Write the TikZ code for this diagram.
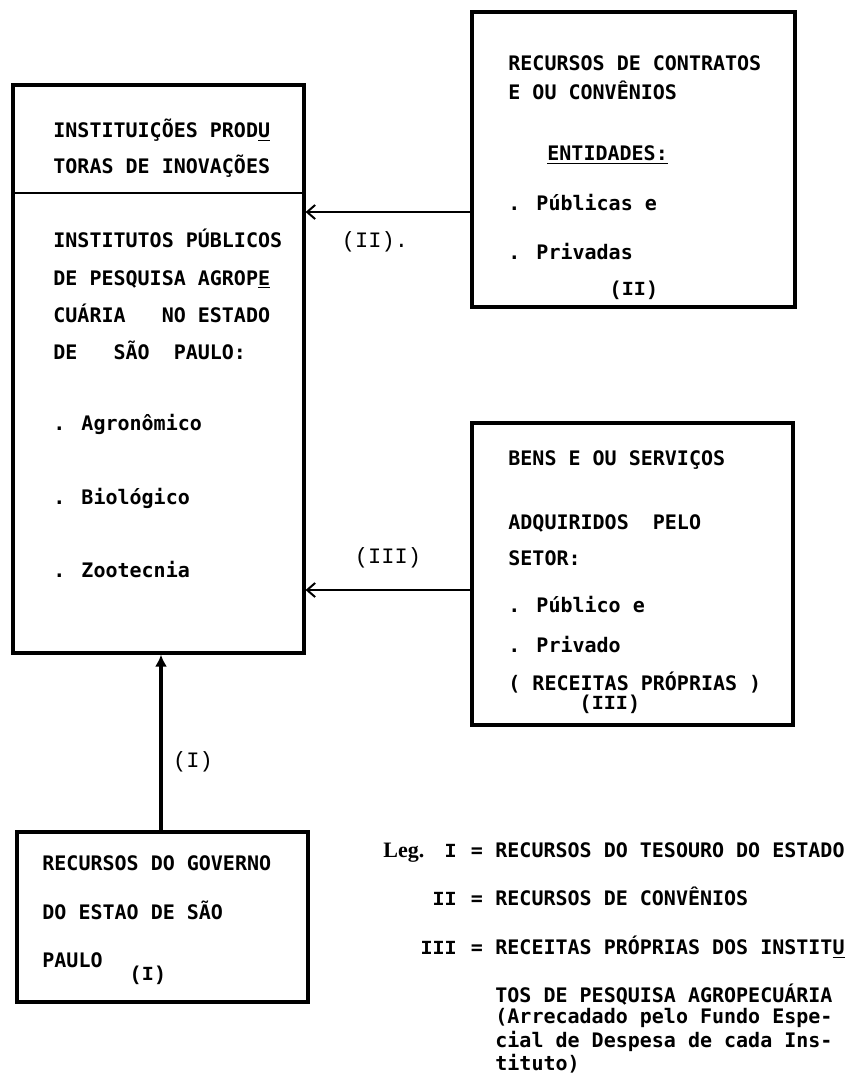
\documentclass[tikz,border=0pt]{standalone}
\usepackage{fontspec}
\newfontfamily\typefont{DejaVu Sans Mono}
\newfontfamily\numfont{Liberation Mono}
\newfontfamily\legfont{Liberation Serif}
\usetikzlibrary{arrows.meta, fit}

\begin{document}
\begin{tikzpicture}[x=0.5pt, y=-0.5pt,
    box/.style={draw, line width=1.6pt, inner sep=0pt},
    txt/.style={anchor=base west, inner sep=0pt, font=\typefont\bfseries\fontsize{10}{12}\selectfont},
    tag/.style={anchor=base, inner sep=0pt, font=\numfont\bfseries\fontsize{10}{12}\selectfont},
    flowlabel/.style={inner sep=0pt, font=\numfont\fontsize{11}{12}\selectfont},
    flow/.style={line width=1pt, -{Straight Barb[length=4pt, width=7pt]}}]
    \useasboundingbox (0,0) rectangle (861,1078);

    % Institutions (main box)
    \node[box, fit={(13,85) (304,653)}] (inst) {};
    \coordinate (hdr) at (0,193);
    \draw[line width=1pt] (inst.west |- hdr) -- (inst.east |- hdr);
    \node[txt] (instA) at (53,137) {INSTITUIÇÕES PROD\underline{U}};
    \node[txt] (instB) at (53,173) {TORAS DE INOVAÇÕES};
    \node[txt] (instC) at (53,247) {INSTITUTOS PÚBLICOS};
    \node[txt] (instD) at (53,285) {DE PESQUISA AGROP\underline{E}};
    \node[txt] (instE) at (53,322) {CUÁRIA~~~NO ESTADO};
    \node[txt] (instF) at (53,359) {DE~~~SÃO~~PAULO:};
    \node[txt] (instG) at (53,430) {. Agronômico};
    \node[txt] (instH) at (53,504) {. Biológico};
    \node[txt] (instI) at (53,577) {. Zootecnia};

    % Contracts
    \node[box, fit={(472,12) (795,307)}] (contr) {};
    \node[txt] (contrA) at (508,70) {RECURSOS DE CONTRATOS};
    \node[txt] (contrB) at (508,99) {E OU CONVÊNIOS};
    \node[txt] (contrC) at (547,160) {\underline{ENTIDADES:}};
    \node[txt] (contrD) at (508,210) {. Públicas e};
    \node[txt] (contrE) at (508,259) {. Privadas};
    \node[tag] (contrT) at (634,295) {(II)};

    % Goods and services
    \node[box, fit={(472,423) (793,725)}] (bens) {};
    \node[txt] (bensA) at (508,465) {BENS E OU SERVIÇOS};
    \node[txt] (bensB) at (508,529) {ADQUIRIDOS~~PELO};
    \node[txt] (bensC) at (508,565) {SETOR:};
    \node[txt] (bensD) at (508,612) {. Público e};
    \node[txt] (bensE) at (508,652) {. Privado};
    \node[txt] (bensF) at (508,690) {( RECEITAS PRÓPRIAS )};
    \node[tag] (bensT) at (610,709) {(III)};

    % State government
    \node[box, fit={(17,832) (308,1002)}] (gov) {};
    \node[txt] (govA) at (42,870) {RECURSOS DO GOVERNO};
    \node[txt] (govB) at (42,919) {DO ESTAO DE SÃO};
    \node[txt] (govC) at (42,967) {PAULO};
    \node[tag] (govT) at (148,980) {(I)};

    % Arrows
    \coordinate (lvII) at (0,212);
    \coordinate (lvIII) at (0,590);
    \coordinate (lvI) at (161,0);
    \draw[flow] (contr.west |- lvII) -- (inst.east |- lvII);
    \draw[flow] (bens.west |- lvIII) -- (inst.east |- lvIII);
    \draw[line width=2pt, -{Latex[length=6pt, width=6pt]}] (gov.north -| lvI) -- (inst.south -| lvI);
    \node[flowlabel] (lblII) at (375,242) {(II).};
    \node[flowlabel] (lblIII) at (388,558) {(III)};
    \node[flowlabel] (lblI) at (193,762) {(I)};

    % Legend
    \node[anchor=base west, inner sep=0pt, font=\legfont\bfseries\fontsize{11}{12}\selectfont] (leg) at (383,857) {Leg.};
    \foreach \key/\yy/\val in {I/857/RECURSOS DO TESOURO DO ESTADO,
                               II/905/RECURSOS DE CONVÊNIOS,
                               III/954/{RECEITAS PRÓPRIAS DOS INSTIT\underline{U}}} {
        \node[tag, anchor=base east] (key\key) at (457,\yy) {\key};
        \node[txt, anchor=base] (eq\key) at (477,\yy) {=};
        \node[txt] (val\key) at (495,\yy) {\val};
    }
    \node[txt] (legA) at (495,1002) {TOS DE PESQUISA AGROPECUÁRIA};
    \node[txt] (legB) at (495,1023) {(Arrecadado pelo Fundo Espe-};
    \node[txt] (legC) at (495,1047) {cial de Despesa de cada Ins-};
    \node[txt] (legD) at (495,1070) {tituto)};
\end{tikzpicture}
\end{document}
